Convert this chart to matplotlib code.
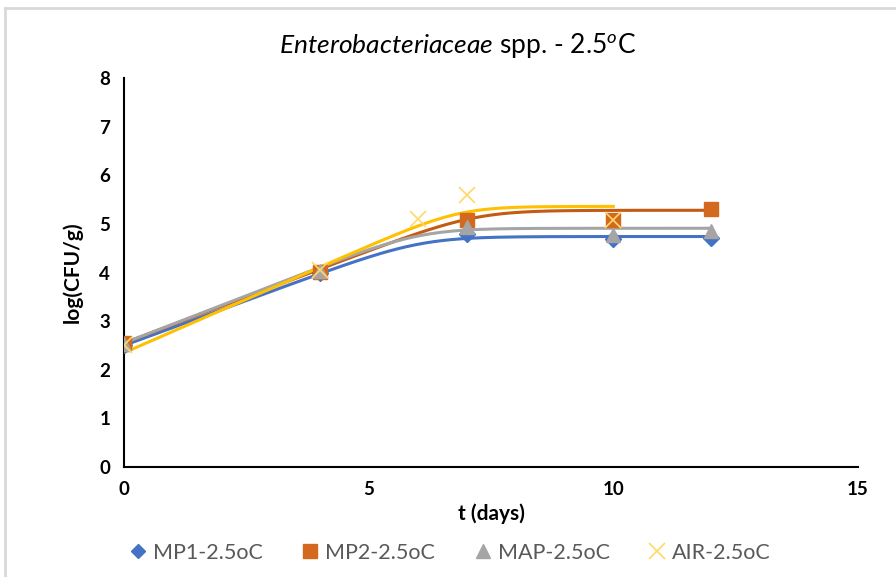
import numpy as np
import matplotlib
matplotlib.use("Agg")
import matplotlib.pyplot as plt
from matplotlib.lines import Line2D

plt.rcParams['font.family'] = ['Lato', 'DejaVu Sans']
plt.rcParams['mathtext.fontset'] = 'custom'
plt.rcParams['mathtext.rm'] = 'Lato'
plt.rcParams['mathtext.it'] = 'Lato:italic'

# observed counts, log(CFU/g)
t_mp1 = [0, 4, 7, 10, 12]
y_mp1 = [2.50, 3.98, 4.79, 4.69, 4.70]
t_mp2 = [0, 4, 7, 10, 12]
y_mp2 = [2.55, 4.01, 5.07, 5.08, 5.30]
t_map = [0, 4, 7, 10, 12]
y_map = [2.52, 4.03, 4.94, 4.77, 4.86]
t_air = [0, 4, 6, 7, 10]
y_air = [2.50, 4.05, 5.10, 5.60, 5.07]

# fitted growth curves (y0, ymax, mu, end of fit)
fit_mp1 = (2.50, 4.74, 0.37, 12)
fit_mp2 = (2.55, 5.28, 0.38, 12)
fit_map = (2.55, 4.91, 0.39, 12)
fit_air = (2.35, 5.36, 0.44, 10)
curvature = 2.0

labels = ['MP1-2.5oC', 'MP2-2.5oC', 'MAP-2.5oC', 'AIR-2.5oC']


def growth(t, y0, ymax, mu, m=curvature):
    # Baranyi-type model without lag phase, log10 units
    a = mu * t
    return y0 + a - np.log10(1 + (10 ** (m * a) - 1) / 10 ** (m * (ymax - y0))) / m


fig = plt.figure(figsize=(8.96, 5.77), dpi=100)
ax = fig.add_axes([0.1384, 0.1906, 0.8192, 0.6742])

series = [
    (t_mp1, y_mp1, fit_mp1, 'D', '#4472C4', '#4472C4', 8),
    (t_mp2, y_mp2, fit_mp2, 's', '#D2691E', '#C55A11', 10),
    (t_map, y_map, fit_map, '^', '#A5A5A5', '#A5A5A5', 10),
    (t_air, y_air, fit_air, 'x', '#FFD966', '#FFC000', 11),
]

for t, y, fit, mk, mcol, lcol, ms in series:
    y0, ymax, mu, tend = fit
    tt = np.linspace(0, tend, 200)
    ax.plot(tt, growth(tt, y0, ymax, mu), color=lcol, lw=2.2, zorder=2)
    if mk == 'x':
        ax.plot(t, y, ls='none', marker=mk, ms=ms, mec=mcol, mew=1.2, zorder=3)
    else:
        ax.plot(t, y, ls='none', marker=mk, ms=ms, color=mcol, zorder=3)

ax.set_xlim(0, 15)
ax.set_ylim(0, 8)
ax.set_xticks([0, 5, 10, 15])
ax.set_yticks(range(9))
ax.tick_params(length=0, labelsize=13.5, pad=10)
for lab in ax.get_xticklabels() + ax.get_yticklabels():
    lab.set_fontweight('bold')
ax.spines['top'].set_visible(False)
ax.spines['right'].set_visible(False)
ax.spines['left'].set_linewidth(1.5)
ax.spines['bottom'].set_linewidth(1.5)

ax.set_xlabel('t (days)', fontsize=15, fontweight='bold', labelpad=4)
ax.set_ylabel('log(CFU/g)', fontsize=15, fontweight='bold', labelpad=12)

fig.text(0.511, 0.922, r'$\it{Enterobacteriaceae}$ spp. - 2.5$^{o}$C',
         ha='center', va='center', fontsize=19)

handles = [
    Line2D([], [], ls='none', marker='D', ms=7, color='#4472C4'),
    Line2D([], [], ls='none', marker='s', ms=10, color='#D2691E'),
    Line2D([], [], ls='none', marker='^', ms=10, color='#A5A5A5'),
    Line2D([], [], ls='none', marker='x', ms=11, mec='#FFD966', mew=1.2),
]
fig.legend(handles, labels, loc='center', bbox_to_anchor=(0.5, 0.042), ncol=4,
           frameon=False, fontsize=15.5, handletextpad=0.1, columnspacing=1.6,
           handlelength=1.2, labelcolor='#595959')

# chart frame
fig.add_artist(Line2D([0.006, 1.0], [0.986, 0.986], color='#D9D9D9', lw=2,
                      transform=fig.transFigure))
fig.add_artist(Line2D([0.006, 0.006], [0.0, 0.986], color='#D9D9D9', lw=2,
                      transform=fig.transFigure))

fig.savefig('out.png', dpi=100)
